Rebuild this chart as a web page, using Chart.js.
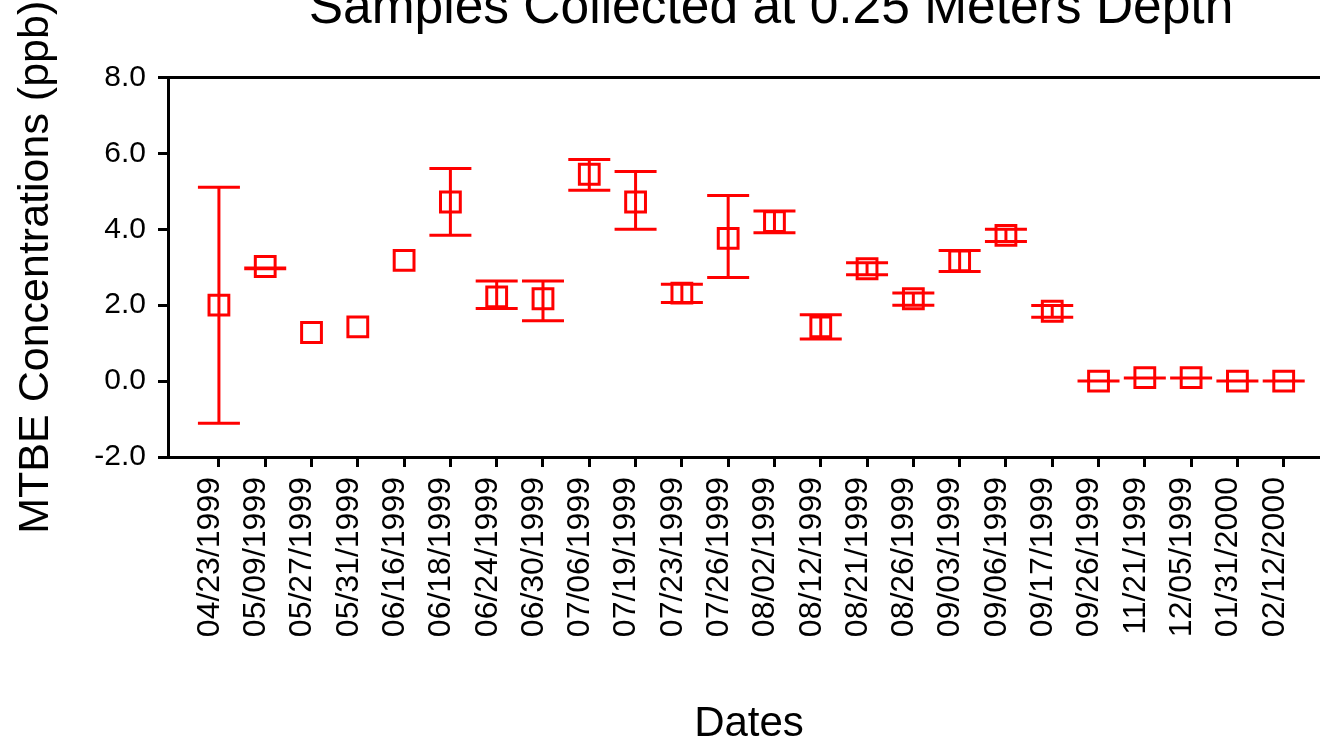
<!DOCTYPE html>
<html>
<head>
<meta charset="utf-8">
<title>MTBE Concentrations</title>
<script src="https://cdn.jsdelivr.net/npm/chart.js@4.4.1/dist/chart.umd.min.js"></script>
<style>
  html, body { margin: 0; padding: 0; overflow: hidden; background: #fff; }
  canvas { display: block; }
</style>
</head>
<body>
<canvas id="chart" width="1542" height="745"></canvas>
<script>
// sampling dates (one category each)
const dates = [
  '04/23/1999', '05/09/1999', '05/27/1999', '05/31/1999', '06/16/1999', '06/18/1999',
  '06/24/1999', '06/30/1999', '07/06/1999', '07/19/1999', '07/23/1999', '07/26/1999',
  '08/02/1999', '08/12/1999', '08/21/1999', '08/26/1999', '09/03/1999', '09/06/1999',
  '09/17/1999', '09/26/1999', '11/21/1999', '12/05/1999', '01/31/2000', '02/12/2000'
];

// mean MTBE concentration (ppb)
const mtbe = [
  2.00, 3.02, 1.28, 1.43, 3.18, 4.72,
  2.22, 2.17, 5.45, 4.72, 2.32, 3.76,
  4.20, 1.43, 2.96, 2.17, 3.17, 3.84,
  1.84, 0.00, 0.09, 0.09, 0.00, 0.00
];

// error bar ends (null = no bar)
const errLow = [
  -1.11, 2.96, null, null, null, 3.84,
  1.91, 1.59, 5.03, 4.00, 2.07, 2.73,
  3.91, 1.11, 2.80, 2.00, 2.89, 3.68,
  1.68, 0.00, 0.08, 0.08, 0.00, 0.00
];
const errHigh = [
  5.11, 2.98, null, null, null, 5.60,
  2.64, 2.64, 5.84, 5.52, 2.55, 4.89,
  4.48, 1.75, 3.12, 2.32, 3.44, 4.00,
  1.99, 0.00, 0.08, 0.08, 0.00, 0.00
];

const yTicks = [-2, 0, 2, 4, 6, 8];

Chart.defaults.font.family = '"Liberation Sans", Arial, sans-serif';
Chart.defaults.color = '#000';

const errorBars = {
  id: 'errorBars',
  afterDatasetsDraw(chart) {
    const { ctx, scales: { x, y } } = chart;
    ctx.save();
    ctx.strokeStyle = '#ff0000';
    ctx.lineWidth = 3;
    errLow.forEach((lo, i) => {
      const hi = errHigh[i];
      if (lo === null || hi === null) return;
      const px = x.getPixelForValue(i);
      const pLo = y.getPixelForValue(lo);
      const pHi = y.getPixelForValue(hi);
      ctx.beginPath();
      ctx.moveTo(px, pLo);
      ctx.lineTo(px, pHi);
      ctx.moveTo(px - 21, pLo);
      ctx.lineTo(px + 21, pLo);
      ctx.moveTo(px - 21, pHi);
      ctx.lineTo(px + 21, pHi);
      ctx.stroke();
    });
    ctx.restore();
  }
};

// top edge of the plot frame
const frameTop = {
  id: 'frameTop',
  afterDraw(chart) {
    const { ctx, chartArea } = chart;
    ctx.save();
    ctx.strokeStyle = '#000';
    ctx.lineWidth = 3;
    ctx.beginPath();
    ctx.moveTo(chartArea.left - 1.5, chartArea.top);
    ctx.lineTo(chartArea.right, chartArea.top);
    ctx.stroke();
    ctx.restore();
  }
};

new Chart(document.getElementById('chart'), {
  type: 'scatter',
  data: {
    datasets: [{
      label: 'MTBE',
      data: mtbe.map((v, i) => ({ x: i, y: v })),
      pointStyle: 'rect',
      pointRadius: 14,
      pointHoverRadius: 14,
      pointBorderWidth: 3,
      borderColor: '#ff0000',
      backgroundColor: 'rgba(0,0,0,0)',
      showLine: false,
      clip: false
    }]
  },
  options: {
    responsive: false,
    animation: false,
    events: [],
    layout: { padding: 0 },
    plugins: {
      legend: { display: false },
      tooltip: { enabled: false },
      title: {
        display: true,
        text: 'Samples Collected at 0.25 Meters Depth',
        font: { size: 51.5, weight: 'normal', lineHeight: 1 },
        padding: { top: -17, bottom: 43 }
      }
    },
    scales: {
      x: {
        type: 'linear',
        min: -1.1,
        max: 24,
        afterBuildTicks: (axis) => { axis.ticks = dates.map((d, i) => ({ value: i })); },
        afterFit: (axis) => { axis.height = 288; },
        ticks: {
          autoSkip: false,
          minRotation: 90,
          maxRotation: 90,
          padding: 10,
          labelOffset: -9,
          font: { size: 32 },
          callback: (v) => dates[v]
        },
        grid: { drawOnChartArea: false, drawTicks: true, tickLength: 10, color: '#000', lineWidth: 3 },
        border: { display: true, color: '#000', width: 3 },
        title: {
          display: true,
          text: 'Dates',
          font: { size: 42, lineHeight: 1 },
          padding: { top: 0, bottom: 0 }
        }
      },
      y: {
        min: -2,
        max: 8,
        afterBuildTicks: (axis) => { axis.ticks = yTicks.map(v => ({ value: v })); },
        afterFit: (axis) => { axis.width = 168; },
        ticks: {
          padding: 12,
          font: { size: 30 },
          callback: (v) => v.toFixed(1)
        },
        grid: { drawOnChartArea: false, drawTicks: true, tickLength: 10, color: '#000', lineWidth: 3 },
        border: { display: true, color: '#000', width: 3 },
        title: {
          display: true,
          text: 'MTBE Concentrations (ppb)',
          font: { size: 43 },
          padding: { top: 10, bottom: 0 }
        }
      },
      // empty right margin, keeps the plot area ending past the visible edge
      margin: {
        type: 'linear',
        position: 'right',
        afterFit: (axis) => { axis.width = 212; },
        ticks: { display: false },
        grid: { display: false, drawTicks: false },
        border: { display: false }
      }
    }
  },
  plugins: [errorBars, frameTop]
});
</script>
</body>
</html>
